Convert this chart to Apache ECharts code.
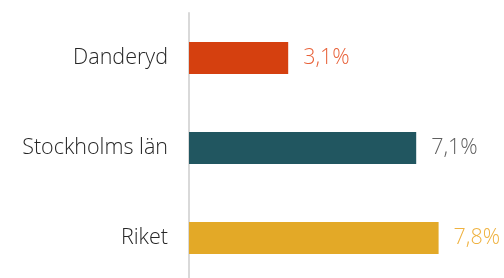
<!DOCTYPE html>
<html><head><meta charset="utf-8">
<script src="https://cdn.jsdelivr.net/npm/echarts@6/dist/echarts.min.js"></script>
<style>html,body{margin:0;padding:0;background:#fff}#c{width:504px;height:278px}</style>
</head><body><div id="c"></div>
<script>
const categories = ['Danderyd', 'Stockholms län', 'Riket'];
const values = [3.1, 7.1, 7.8];
const barColors = ['#D5400F', '#215660', '#E3A927'];
const labelColors = ['#E8623A', '#5F5F5F', '#EFB240'];

const chart = echarts.init(document.getElementById('c'), null, {renderer: 'canvas'});
chart.setOption({
  animation: false,
  grid: {left: 189, right: 27, top: 13, height: 270, containLabel: false, outerBoundsMode: 'none'},
  xAxis: {type: 'value', min: 0, max: 9, show: false},
  yAxis: {
    type: 'category', data: categories, inverse: true,
    axisLine: {show: true, lineStyle: {color: '#D9D9D9', width: 2}},
    axisTick: {show: false},
    axisLabel: {margin: 21, fontSize: 21.5, color: '#262626', fontFamily: 'Open Sans', fontWeight: 300}
  },
  series: [{
    type: 'bar', barWidth: 32,
    data: values.map((v, i) => ({
      value: v,
      itemStyle: {color: barColors[i]},
      label: {color: labelColors[i]}
    })),
    label: {
      show: true, position: 'right', distance: 15,
      fontSize: 21.5, fontFamily: 'Open Sans', fontWeight: 300,
      formatter: p => p.value.toFixed(1).replace('.', ',') + '%'
    }
  }]
});
</script></body></html>
